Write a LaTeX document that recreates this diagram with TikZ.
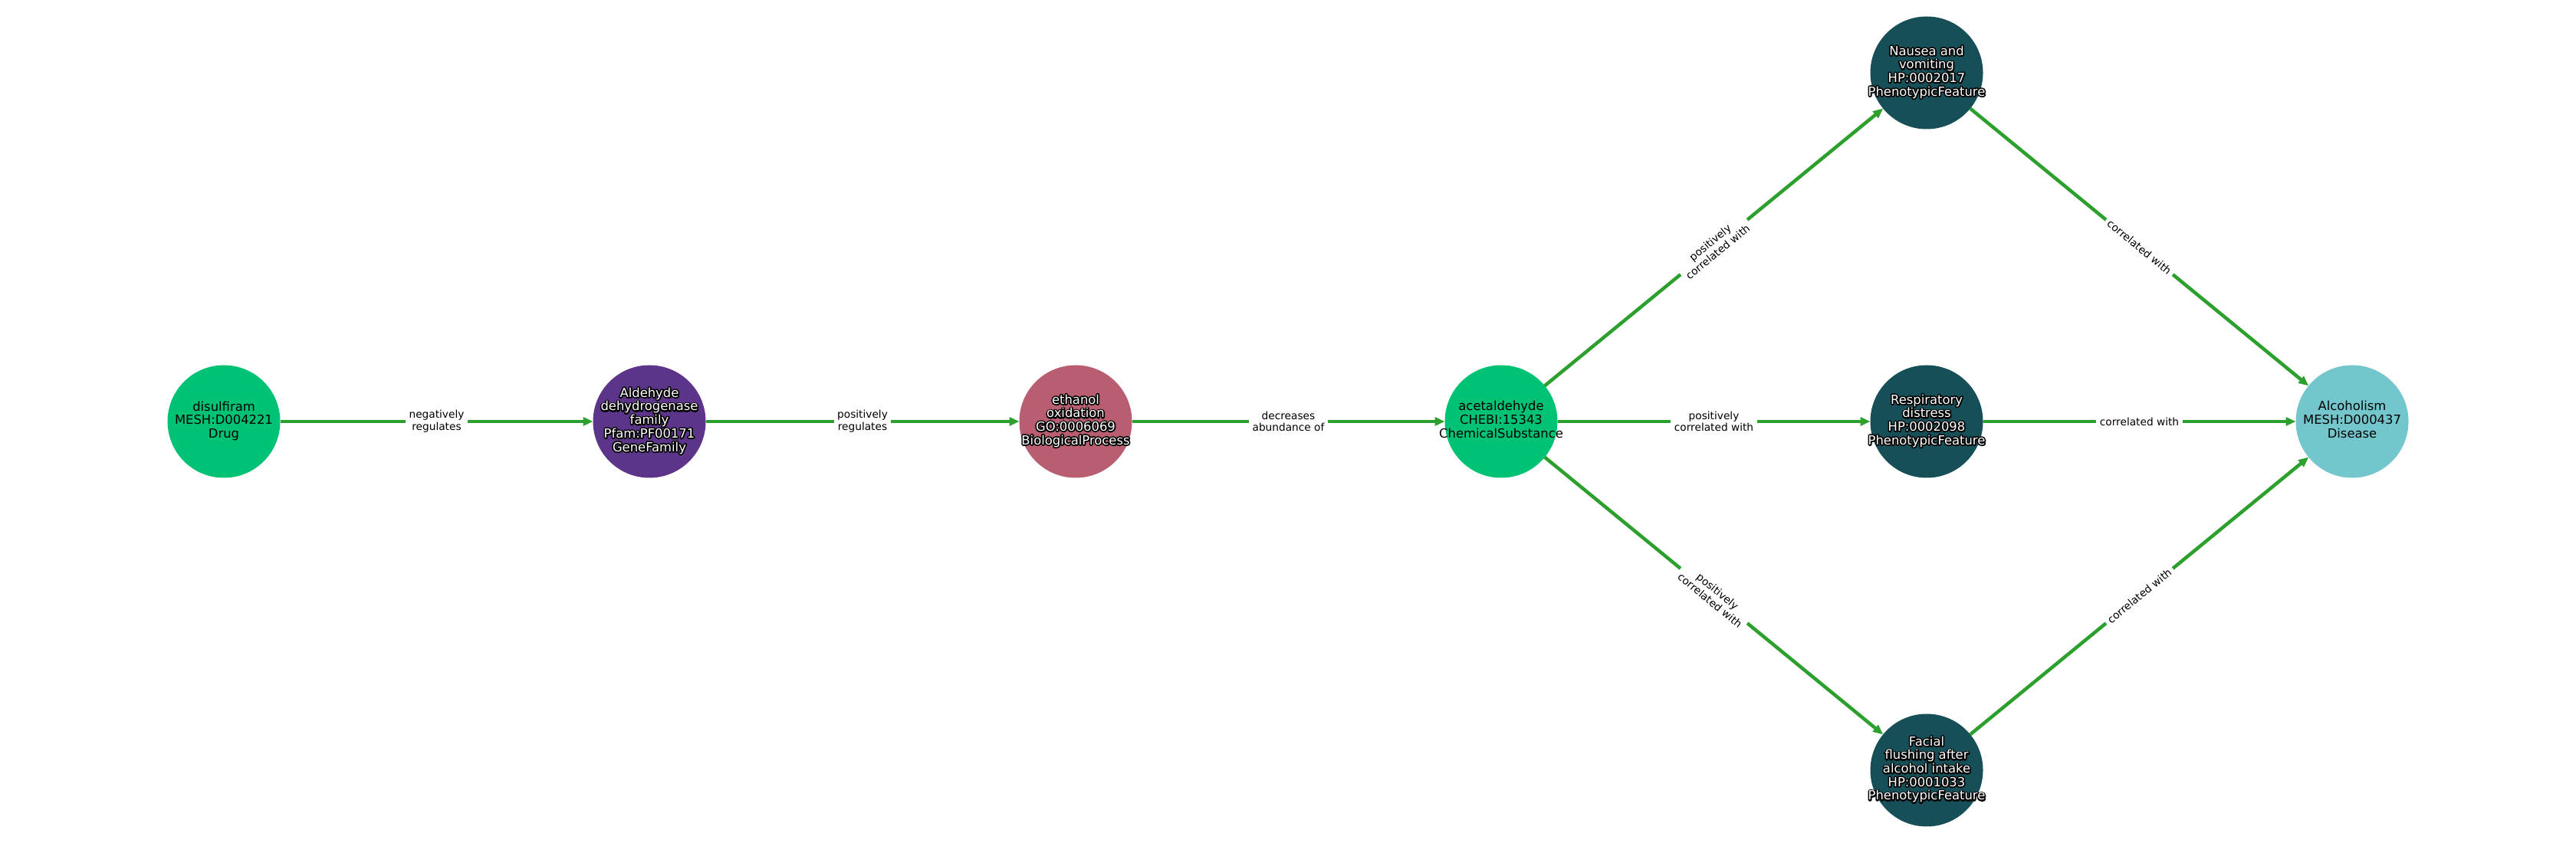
\documentclass[tikz,border=0pt]{standalone}
\usepackage{fontspec}
\setmainfont{DejaVu Sans}
\usepackage{tikz}
\usetikzlibrary{arrows.meta}

\definecolor{druggreen}{HTML}{00C275}
\definecolor{genepurple}{HTML}{5C3489}
\definecolor{procrose}{HTML}{B95D70}
\definecolor{phenoteal}{HTML}{164F58}
\definecolor{diseaseteal}{HTML}{73C6CB}
\definecolor{edgegreen}{HTML}{2CA02C}

% white text with a black outline
\newcommand{\halo}[1]{\makebox[0pt][l]{\special{pdf:literal direct 1 Tr 1 w 1 j 0 G}#1\special{pdf:literal direct 0 Tr}}#1}
\newcommand{\lbl}[1]{\makebox[0pt]{\begin{tabular}{@{}c@{}}#1\end{tabular}}}

\tikzset{
  entity/.style={circle, minimum size=1.47cm, inner sep=0pt, outer sep=0pt,
    font=\fontsize{4.66}{5.0}\selectfont},
  darkentity/.style={entity, text=white},
  edge/.style={-{Triangle[length=0.13cm, width=0.11cm]}, line width=0.045cm, color=edgegreen},
  elabel/.style={fill=white, inner sep=1.3pt, align=center, text=black,
    font=\fontsize{3.9}{4.45}\selectfont}
}

\begin{document}
\begin{tikzpicture}
      \useasboundingbox (0,0) rectangle (33.6,11);

      % Chain
      \node[entity, fill=druggreen] (disulfiram) at (2.92, 5.5) {\lbl{disulfiram\\MESH:D004221\\Drug}};
      \node[darkentity, fill=genepurple] (aldh) at (8.47, 5.5) {\lbl{\halo{Aldehyde}\\\halo{dehydrogenase}\\\halo{family}\\\halo{Pfam:PF00171}\\\halo{GeneFamily}}};
      \node[darkentity, fill=procrose] (ethox) at (14.03, 5.5) {\lbl{\halo{ethanol}\\\halo{oxidation}\\\halo{GO:0006069}\\\halo{BiologicalProcess}}};
      \node[entity, fill=druggreen] (acetal) at (19.58, 5.5) {\lbl{acetaldehyde\\CHEBI:15343\\ChemicalSubstance}};

      % Phenotypes
      \node[darkentity, fill=phenoteal] (nausea) at (25.13, 10.05) {\lbl{\halo{Nausea and}\\\halo{vomiting}\\\halo{HP:0002017}\\\halo{PhenotypicFeature}}};
      \node[darkentity, fill=phenoteal] (resp) at (25.13, 5.5) {\lbl{\halo{Respiratory}\\\halo{distress}\\\halo{HP:0002098}\\\halo{PhenotypicFeature}}};
      \node[darkentity, fill=phenoteal] (flush) at (25.13, 0.95) {\lbl{\halo{Facial}\\\halo{flushing after}\\\halo{alcohol intake}\\\halo{HP:0001033}\\\halo{PhenotypicFeature}}};

      % Disease
      \node[entity, fill=diseaseteal] (alcoholism) at (30.68, 5.5) {\lbl{Alcoholism\\MESH:D000437\\Disease}};

      % Edges
      \draw[edge] (disulfiram) -- node[elabel] {negatively\\regulates} (aldh);
      \draw[edge] (aldh) -- node[elabel] {positively\\regulates} (ethox);
      \draw[edge] (ethox) -- node[elabel] {decreases\\abundance of} (acetal);
      \draw[edge] (acetal) -- node[elabel, sloped] {positively\\correlated with} (nausea);
      \draw[edge] (acetal) -- node[elabel] {positively\\correlated with} (resp);
      \draw[edge] (acetal) -- node[elabel, sloped] {positively\\correlated with} (flush);
      \draw[edge] (nausea) -- node[elabel, sloped] {correlated with} (alcoholism);
      \draw[edge] (resp) -- node[elabel] {correlated with} (alcoholism);
      \draw[edge] (flush) -- node[elabel, sloped] {correlated with} (alcoholism);
    \end{tikzpicture}
\end{document}
